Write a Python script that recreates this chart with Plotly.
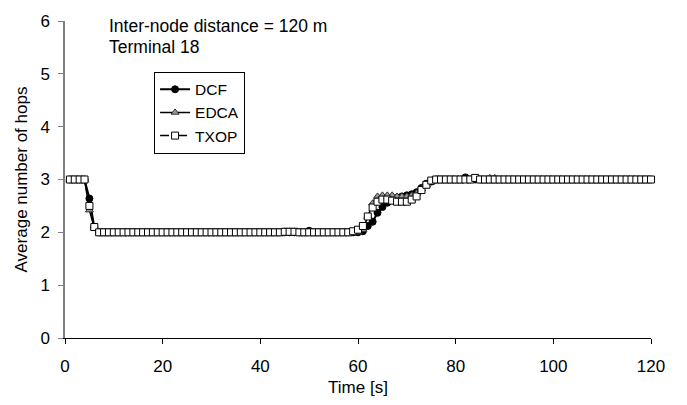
import plotly.graph_objects as go

time_s = list(range(1, 121))

dcf = [
    3.0, 3.0, 3.0, 3.0, 2.64, 2.1, 2.0, 2.0, 2.0, 2.0, 2.0, 2.0, 2.0, 2.0, 2.0, 2.0, 2.0, 2.0, 2.0, 2.0,
    2.0, 2.0, 2.0, 2.0, 2.0, 2.0, 2.0, 2.0, 2.0, 2.0, 2.0, 2.0, 2.0, 2.0, 2.0, 2.0, 2.0, 2.0, 2.0, 2.0,
    2.0, 2.0, 2.0, 2.0, 2.0, 2.0, 2.0, 2.0, 2.0, 2.03, 2.0, 2.0, 2.0, 2.0, 2.0, 2.0, 2.0, 2.0, 2.0, 2.0,
    2.02, 2.12, 2.2, 2.37, 2.48, 2.56, 2.62, 2.66, 2.68, 2.7, 2.72, 2.76, 2.84, 2.92, 2.96, 3.0, 3.0, 3.0, 3.0, 3.0,
    3.0, 3.04, 3.0, 3.0, 3.0, 3.0, 3.0, 3.0, 3.0, 3.0, 3.0, 3.0, 3.0, 3.0, 3.0, 3.0, 3.0, 3.0, 3.0, 3.0,
    3.0, 3.0, 3.0, 3.0, 3.0, 3.0, 3.0, 3.0, 3.0, 3.0, 3.0, 3.0, 3.0, 3.0, 3.0, 3.0, 3.0, 3.0, 3.0, 3.0,
]

edca = [
    3.0, 3.0, 3.0, 3.0, 2.42, 2.08, 2.0, 2.0, 2.0, 2.0, 2.0, 2.0, 2.0, 2.0, 2.0, 2.0, 2.0, 2.0, 2.0, 2.0,
    2.0, 2.0, 2.0, 2.0, 2.0, 2.0, 2.0, 2.0, 2.0, 2.0, 2.0, 2.0, 2.0, 2.0, 2.0, 2.0, 2.0, 2.0, 2.0, 2.0,
    2.0, 2.0, 2.0, 2.0, 2.02, 2.02, 2.02, 2.0, 2.0, 2.0, 2.0, 2.0, 2.0, 2.0, 2.0, 2.0, 2.0, 2.0, 2.0, 2.0,
    2.05, 2.3, 2.55, 2.68, 2.7, 2.7, 2.7, 2.68, 2.68, 2.68, 2.7, 2.74, 2.82, 2.9, 2.97, 3.0, 3.0, 3.0, 3.0, 3.0,
    3.0, 3.0, 3.0, 3.0, 3.0, 3.0, 3.03, 3.03, 3.0, 3.0, 3.0, 3.0, 3.0, 3.0, 3.0, 3.0, 3.0, 3.0, 3.0, 3.0,
    3.0, 3.0, 3.0, 3.0, 3.0, 3.0, 3.0, 3.0, 3.0, 3.0, 3.0, 3.0, 3.0, 3.0, 3.0, 3.0, 3.0, 3.0, 3.0, 3.0,
]

txop = [
    3.0, 3.0, 3.0, 3.0, 2.5, 2.1, 2.0, 2.0, 2.0, 2.0, 2.0, 2.0, 2.0, 2.0, 2.0, 2.0, 2.0, 2.0, 2.0, 2.0,
    2.0, 2.0, 2.0, 2.0, 2.0, 2.0, 2.0, 2.0, 2.0, 2.0, 2.0, 2.0, 2.0, 2.0, 2.0, 2.0, 2.0, 2.0, 2.0, 2.0,
    2.0, 2.0, 2.0, 2.0, 2.01, 2.01, 2.01, 2.0, 2.0, 2.0, 2.0, 2.0, 2.0, 2.0, 2.0, 2.0, 2.0, 2.0, 2.02, 2.05,
    2.12, 2.3, 2.47, 2.58, 2.62, 2.62, 2.6, 2.58, 2.58, 2.58, 2.62, 2.68, 2.8, 2.9, 2.98, 3.0, 3.0, 3.0, 3.0, 3.0,
    3.0, 3.0, 3.0, 3.03, 3.0, 3.0, 3.0, 3.0, 3.0, 3.0, 3.0, 3.0, 3.0, 3.0, 3.0, 3.0, 3.0, 3.0, 3.0, 3.0,
    3.0, 3.0, 3.0, 3.0, 3.0, 3.0, 3.0, 3.0, 3.0, 3.0, 3.0, 3.0, 3.0, 3.0, 3.0, 3.0, 3.0, 3.0, 3.0, 3.0,
]

x_ticks = [0, 20, 40, 60, 80, 100, 120]
y_ticks = [0, 1, 2, 3, 4, 5, 6]

FONT = "Liberation Sans, Arial, sans-serif"

fig = go.Figure()
fig.add_trace(go.Scatter(
    x=time_s, y=dcf, name="DCF", mode="lines+markers",
    line=dict(color="black", width=2),
    marker=dict(symbol="circle", size=7, color="black", line=dict(color="black", width=1)),
    cliponaxis=False,
))
fig.add_trace(go.Scatter(
    x=time_s, y=edca, name="EDCA", mode="lines+markers",
    line=dict(color="black", width=1.5),
    marker=dict(symbol="triangle-up", size=7, color="#999999", line=dict(color="#333333", width=1)),
    cliponaxis=False,
))
fig.add_trace(go.Scatter(
    x=time_s, y=txop, name="TXOP", mode="lines+markers",
    line=dict(color="black", width=1.5, dash="dash"),
    marker=dict(symbol="square", size=7, color="white", line=dict(color="black", width=1)),
    cliponaxis=False,
))

fig.update_layout(
    width=687, height=405,
    margin=dict(l=65, r=36, t=14, b=66),
    plot_bgcolor="white", paper_bgcolor="white",
    font=dict(family=FONT, size=17, color="black"),
    showlegend=True,
    legend=dict(
        x=0.152, y=0.84, xanchor="left", yanchor="top",
        bordercolor="black", borderwidth=1, bgcolor="white",
        font=dict(family=FONT, size=15.5, color="black"),
        tracegroupgap=0, itemwidth=30,
    ),
    xaxis=dict(
        range=[0, 120], tickvals=x_ticks, ticktext=[str(v) for v in x_ticks],
        showgrid=False, zeroline=False, showline=True, linecolor="black", linewidth=1,
        ticks="outside", ticklen=5, tickcolor="black", ticklabelstandoff=8,
        title=dict(text="Time [s]", font=dict(family=FONT, size=17), standoff=5),
    ),
    yaxis=dict(
        range=[0, 6], tickvals=y_ticks, ticktext=[str(v) for v in y_ticks],
        showgrid=False, zeroline=False, showline=True, linecolor="#808080", linewidth=1.5,
        ticks="outside", ticklen=5, tickcolor="#808080", ticklabelstandoff=5,
        title=dict(text="Average number of hops", font=dict(family=FONT, size=17), standoff=8),
    ),
    annotations=[
        dict(text="Inter-node distance = 120 m", xref="paper", yref="paper", x=0.0717, y=0.985,
             xanchor="left", yanchor="middle", showarrow=False, font=dict(family=FONT, size=17.5)),
        dict(text="Terminal 18", xref="paper", yref="paper", x=0.0717, y=0.917,
             xanchor="left", yanchor="middle", showarrow=False, font=dict(family=FONT, size=17.5)),
    ],
)

fig.write_html("out.html")
